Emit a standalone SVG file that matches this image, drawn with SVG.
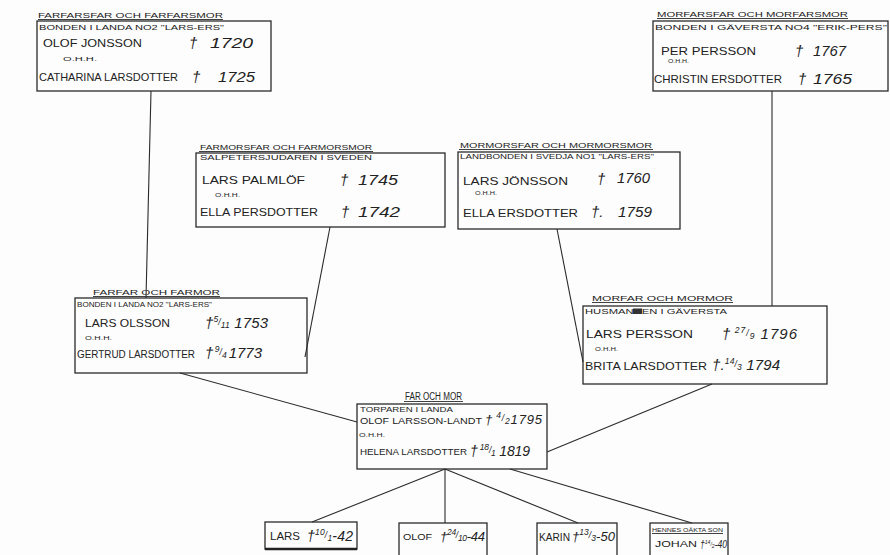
<svg xmlns="http://www.w3.org/2000/svg" width="890" height="555" viewBox="0 0 890 555">
<style>
.bg{fill:#fdfdfd}
.box{fill:none;stroke:#2b2b2b;stroke-width:1.3}
.ul{stroke:#2b2b2b;stroke-width:0.9}
.conn line{stroke:#2b2b2b;stroke-width:1.1}
text{font-family:"Liberation Sans",Arial,sans-serif;fill:#222}
.ti{font-size:8px}
.sb{font-size:7px}
.nm{font-size:11px}
.oh{font-size:5.5px}
.yr{font-size:15px;font-style:italic}
.dg{font-size:15px;font-style:italic}
.fr{font-size:8.5px;font-style:italic}
</style>
<rect class="bg" x="0" y="0" width="890" height="555"/>

<g id="connectors" class="conn">
<line x1="151" y1="91" x2="146" y2="298"/>
<line x1="330" y1="227" x2="305" y2="357"/>
<line x1="557" y1="229" x2="583" y2="362"/>
<line x1="772" y1="91" x2="772" y2="306"/>
<line x1="180" y1="373" x2="357" y2="422"/>
<line x1="712" y1="384" x2="547" y2="452"/>
<line x1="445" y1="469" x2="312" y2="522"/>
<line x1="445" y1="469" x2="445" y2="523"/>
<line x1="445" y1="469" x2="578" y2="523"/>
<line x1="510" y1="469" x2="692" y2="523"/>
</g>

<g id="farfarsfar">
<text class="ti" x="38" y="18" textLength="185" lengthAdjust="spacingAndGlyphs">FARFARSFAR OCH FARFARSMOR</text>
<line class="ul" x1="38" y1="19.5" x2="223" y2="19.5"/>
<rect class="box" x="37" y="21" width="234" height="70"/>
<text class="sb" x="39" y="30" textLength="185" lengthAdjust="spacingAndGlyphs">BONDEN I LANDA NO2 "LARS-ERS"</text>
<text class="nm" x="43" y="47" textLength="99" lengthAdjust="spacingAndGlyphs">OLOF JONSSON</text>
<text class="dg" x="189" y="48">†</text>
<text class="yr" x="210" y="48" textLength="43" lengthAdjust="spacingAndGlyphs">1720</text>
<text class="oh" x="63" y="61" textLength="34" lengthAdjust="spacingAndGlyphs">O.H.H.</text>
<text class="nm" x="39" y="81" textLength="139" lengthAdjust="spacingAndGlyphs">CATHARINA LARSDOTTER</text>
<text class="dg" x="192" y="82">†</text>
<text class="yr" x="218" y="82" textLength="37" lengthAdjust="spacingAndGlyphs">1725</text>
</g>

<g id="morfarsfar">
<text class="ti" x="657" y="17" textLength="191" lengthAdjust="spacingAndGlyphs">MORFARSFAR OCH MORFARSMOR</text>
<line class="ul" x1="657" y1="18.5" x2="848" y2="18.5"/>
<rect class="box" x="653" y="21" width="235" height="70"/>
<text class="sb" x="655" y="30" textLength="232" lengthAdjust="spacingAndGlyphs">BONDEN I GÄVERSTA NO4 "ERIK-PERS"</text>
<text class="nm" x="661" y="55" textLength="95" lengthAdjust="spacingAndGlyphs">PER PERSSON</text>
<text class="dg" x="795" y="56">†</text>
<text class="yr" x="813" y="56" textLength="33" lengthAdjust="spacingAndGlyphs">1767</text>
<text class="oh" x="668" y="63" textLength="21" lengthAdjust="spacingAndGlyphs">O.H.H.</text>
<text class="nm" x="654" y="83" textLength="128" lengthAdjust="spacingAndGlyphs">CHRISTIN ERSDOTTER</text>
<text class="dg" x="798" y="84">†</text>
<text class="yr" x="813" y="84" textLength="39" lengthAdjust="spacingAndGlyphs">1765</text>
</g>

<g id="farmorsfar">
<text class="ti" x="200" y="150" textLength="172" lengthAdjust="spacingAndGlyphs">FARMORSFAR OCH FARMORSMOR</text>
<line class="ul" x1="199" y1="151.5" x2="373" y2="151.5"/>
<rect class="box" x="196" y="153" width="249" height="74"/>
<text class="sb" x="200" y="160" textLength="172" lengthAdjust="spacingAndGlyphs">SALPETERSJUDAREN I SVEDEN</text>
<text class="nm" x="202" y="184" textLength="103" lengthAdjust="spacingAndGlyphs">LARS PALMLÖF</text>
<text class="dg" x="340" y="185">†</text>
<text class="yr" x="358" y="185" textLength="40" lengthAdjust="spacingAndGlyphs">1745</text>
<text class="oh" x="215" y="197" textLength="25" lengthAdjust="spacingAndGlyphs">O.H.H.</text>
<text class="nm" x="200" y="216" textLength="118" lengthAdjust="spacingAndGlyphs">ELLA PERSDOTTER</text>
<text class="dg" x="341" y="217">†</text>
<text class="yr" x="358" y="217" textLength="42" lengthAdjust="spacingAndGlyphs">1742</text>
</g>

<g id="mormorsfar">
<text class="ti" x="460" y="148" textLength="192" lengthAdjust="spacingAndGlyphs">MORMORSFAR OCH MORMORSMOR</text>
<line class="ul" x1="459" y1="149.5" x2="653" y2="149.5"/>
<rect class="box" x="458" y="152" width="222" height="77"/>
<text class="sb" x="460" y="159" textLength="194" lengthAdjust="spacingAndGlyphs">LANDBONDEN I SVEDJA NO1 "LARS-ERS"</text>
<text class="nm" x="463" y="185" textLength="105" lengthAdjust="spacingAndGlyphs">LARS JÖNSSON</text>
<text class="dg" x="597" y="184">†</text>
<text class="yr" x="617" y="183" textLength="33" lengthAdjust="spacingAndGlyphs">1760</text>
<text class="oh" x="475" y="195" textLength="22" lengthAdjust="spacingAndGlyphs">O.H.H.</text>
<text class="nm" x="463" y="217" textLength="115" lengthAdjust="spacingAndGlyphs">ELLA ERSDOTTER</text>
<text class="dg" x="591" y="217">†.</text>
<text class="yr" x="618" y="217" textLength="34" lengthAdjust="spacingAndGlyphs">1759</text>
</g>

<g id="farfar">
<text class="ti" x="93" y="295" textLength="127" lengthAdjust="spacingAndGlyphs">FARFAR OCH FARMOR</text>
<line class="ul" x1="93" y1="296.5" x2="220" y2="296.5"/>
<rect class="box" x="75" y="298" width="232" height="75"/>
<text class="sb" x="77" y="307" textLength="135" lengthAdjust="spacingAndGlyphs">BONDEN I LANDA NO2 "LARS-ERS"</text>
<text class="nm" x="85" y="327" textLength="85" lengthAdjust="spacingAndGlyphs">LARS OLSSON</text>
<text class="yr" x="205" y="328" textLength="63" lengthAdjust="spacing">†<tspan class="fr" dy="-6">5</tspan><tspan class="fr" dy="3">/</tspan><tspan class="fr" dy="3">11</tspan><tspan dy="0"> 1753</tspan></text>
<text class="oh" x="85" y="340" textLength="27" lengthAdjust="spacingAndGlyphs">O.H.H.</text>
<text class="nm" x="77" y="358" style="font-size:10px" textLength="118" lengthAdjust="spacingAndGlyphs">GERTRUD LARSDOTTER</text>
<text class="yr" x="205" y="358">†<tspan class="fr" dx="1.5" dy="-6">9</tspan><tspan class="fr" dy="3">/</tspan><tspan class="fr" dy="3">4</tspan><tspan dx="2" dy="0">1773</tspan></text>
</g>

<g id="morfar">
<text class="ti" x="592" y="301" textLength="141" lengthAdjust="spacingAndGlyphs">MORFAR OCH MORMOR</text>
<line class="ul" x1="592" y1="302.5" x2="733" y2="302.5"/>
<rect class="box" x="583" y="306" width="244" height="78"/>
<text class="sb" x="585" y="314" textLength="142" lengthAdjust="spacingAndGlyphs">HUSMANNEN I GÄVERSTA</text>
<rect x="633" y="308.5" width="9" height="5.5" fill="#333"/>
<text class="nm" x="586" y="338" textLength="107" lengthAdjust="spacingAndGlyphs">LARS PERSSON</text>
<text class="yr" x="722" y="339" textLength="75" lengthAdjust="spacing">†<tspan class="fr" dy="-6"> 27</tspan><tspan class="fr" dy="3">/</tspan><tspan class="fr" dy="3">9</tspan><tspan dy="0"> 1796</tspan></text>
<text class="oh" x="595" y="351" textLength="23" lengthAdjust="spacingAndGlyphs">O.H.H.</text>
<text class="nm" x="585" y="370" textLength="122" lengthAdjust="spacingAndGlyphs">BRITA LARSDOTTER</text>
<text class="yr" x="712" y="370" textLength="68" lengthAdjust="spacing">†.<tspan class="fr" dy="-6">14</tspan><tspan class="fr" dy="3">/</tspan><tspan class="fr" dy="3">3</tspan><tspan dy="0"> 1794</tspan></text>
</g>

<g id="far-och-mor">
<text class="ti" x="405" y="400" style="font-size:10px" textLength="57" lengthAdjust="spacingAndGlyphs">FAR OCH MOR</text>
<line class="ul" x1="404" y1="401.5" x2="463" y2="401.5"/>
<rect class="box" x="357" y="404" width="190" height="65"/>
<text class="sb" x="360" y="412" textLength="93" lengthAdjust="spacingAndGlyphs">TORPAREN I LANDA</text>
<text class="nm" x="360" y="423.5" style="font-size:8.5px" textLength="122" lengthAdjust="spacingAndGlyphs">OLOF LARSSON-LANDT</text>
<text class="yr" x="485" y="424" style="font-size:13px" textLength="57" lengthAdjust="spacing">†<tspan class="fr" dy="-6"> 4</tspan><tspan class="fr" dy="3">/</tspan><tspan class="fr" dy="3">2</tspan><tspan dy="0">1795</tspan></text>
<text class="oh" x="359" y="437" textLength="26" lengthAdjust="spacingAndGlyphs">O.H.H.</text>
<text class="nm" x="360" y="455" style="font-size:8.5px" textLength="107" lengthAdjust="spacingAndGlyphs">HELENA LARSDOTTER</text>
<text class="yr" x="470" y="456" style="font-size:14px" textLength="60" lengthAdjust="spacing">†<tspan class="fr" dy="-6"> 18</tspan><tspan class="fr" dy="3">/</tspan><tspan class="fr" dy="3">1</tspan><tspan dy="0"> 1819</tspan></text>
</g>

<g id="lars">
<rect class="box" x="265" y="522" width="92" height="27"/>
<line x1="265" y1="549" x2="357" y2="549" stroke="#222" stroke-width="2.5"/>
<text class="nm" x="270" y="540" textLength="30" lengthAdjust="spacingAndGlyphs">LARS</text>
<text class="yr" x="307" y="541" style="font-size:14px" textLength="46" lengthAdjust="spacing">†<tspan class="fr" dy="-6">10</tspan><tspan class="fr" dy="3">/</tspan><tspan class="fr" dy="3">1</tspan><tspan dy="0">-42</tspan></text>
</g>

<g id="olof">
<rect class="box" x="399" y="523" width="88" height="40"/>
<text class="nm" x="403" y="540" style="font-size:9px" textLength="29" lengthAdjust="spacingAndGlyphs">OLOF</text>
<text class="yr" x="440" y="541" style="font-size:13px" textLength="45" lengthAdjust="spacing">†<tspan class="fr" dy="-6">24</tspan><tspan class="fr" dy="3">/</tspan><tspan class="fr" dy="3">10</tspan><tspan dy="0">-44</tspan></text>
</g>

<g id="karin">
<rect class="box" x="537" y="523" width="80" height="40"/>
<text class="nm" x="539" y="541" style="font-size:10px" textLength="31" lengthAdjust="spacingAndGlyphs">KARIN</text>
<text class="yr" x="572" y="541" style="font-size:13px" textLength="43" lengthAdjust="spacing">†<tspan class="fr" dy="-6">13</tspan><tspan class="fr" dy="3">/</tspan><tspan class="fr" dy="3">3</tspan><tspan dy="0">-50</tspan></text>
</g>

<g id="johan">
<rect class="box" x="650" y="523" width="78" height="40"/>
<text class="sb" x="652" y="532" style="font-size:5.5px" textLength="71" lengthAdjust="spacingAndGlyphs">HENNES OÄKTA SON</text>
<line class="ul" x1="652" y1="533.5" x2="723" y2="533.5"/>
<text class="nm" x="655" y="547" style="font-size:9.5px" textLength="42" lengthAdjust="spacingAndGlyphs">JOHAN</text>
<text class="yr" x="700" y="548" style="font-size:10px" textLength="27" lengthAdjust="spacingAndGlyphs">†<tspan class="fr" style="font-size:6px" dy="-4">14</tspan><tspan class="fr" style="font-size:6px" dy="2">/</tspan><tspan class="fr" style="font-size:6px" dy="2">2</tspan><tspan dy="0">-40</tspan></text>
</g>
</svg>
